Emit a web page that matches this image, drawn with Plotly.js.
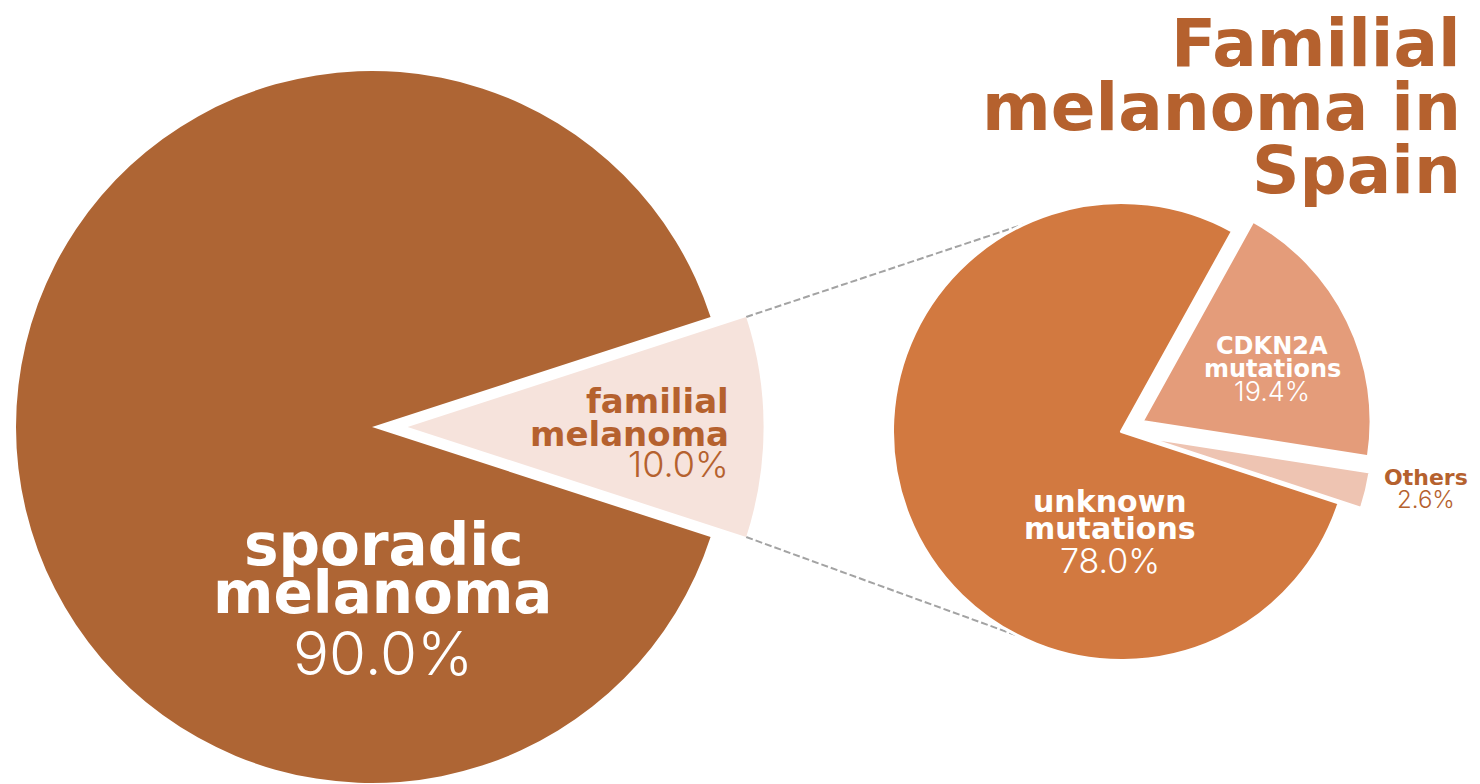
<!DOCTYPE html>
<html><head><meta charset="utf-8">
<script src="https://cdn.plot.ly/plotly-3.0.1.min.js"></script>
<style>
html,body{margin:0;padding:0;overflow:hidden;background:#fff;width:1480px;height:784px;}
#chart{position:absolute;left:-40px;top:0;width:1540px;height:860px;}
</style>
</head><body><div id="chart"></div>
<script>
// ---- data ----
const overallLabels = ['familial melanoma', 'sporadic melanoma'];
const overallValues = [10.0, 90.0];
const familialLabels = ['CDKN2A mutations', 'Others', 'unknown mutations'];
const familialValues = [19.4, 2.6, 78.0];
const titleLines = ['Familial', 'melanoma in', 'Spain'];

// ---- style ----
const overallColors = ['#F6E3DC', '#AE6534'];
const familialColors = ['#E49C7A', '#EEC4B2', '#D27940'];
const BROWN = '#B5612E';
const BOLD = 'DejaVu Sans, Verdana, sans-serif';
const LIGHT = 'Inter, Lato, sans-serif';

// ---- frame (div is wider/taller than the window so the big pie can bleed off) ----
const OX = -40, W = 1540, H = 860;
const px = x => (x - OX) / W;
const py = y => 1 - y / H;

const L = {cx: 372, cy: 427, r: 356, pull: 0.1};
const R = {cx: 1121.5, cy: 431.5, r: 229, pull: 0.1, line: 3, rotation: 29};

function domainFor(p) {
  const half = p.r * (1 + p.pull);
  return {x: [px(p.cx - half), px(p.cx + half)], y: [py(p.cy + half), py(p.cy - half)]};
}
const sum = a => a.reduce((s, v) => s + v, 0);
const pct = (v, a) => (v / sum(a) * 100).toFixed(1) + '%';

const famHalfDeg = overallValues[0] / sum(overallValues) * 180;

const traces = [
  {
    type: 'pie', values: overallValues, labels: overallLabels, sort: false,
    direction: 'clockwise', rotation: 90 - famHalfDeg,
    pull: [L.pull, 0],
    marker: {colors: overallColors, line: {width: 0}},
    textinfo: 'none', hoverinfo: 'none', showlegend: false,
    domain: domainFor(L)
  },
  {
    type: 'pie', values: familialValues, labels: familialLabels, sort: false,
    direction: 'clockwise', rotation: R.rotation,
    pull: [R.pull, R.pull, 0],
    marker: {colors: familialColors, line: {color: '#ffffff', width: R.line}},
    textinfo: 'none', hoverinfo: 'none', showlegend: false,
    domain: domainFor(R)
  }
];

// ---- connector lines: from the pulled familial slice corners to tangents of the right pie ----
const h = famHalfDeg * Math.PI / 180;
const pcx = L.cx + L.pull * L.r;
const corners = [
  {x: pcx + L.r * Math.cos(h), y: L.cy - L.r * Math.sin(h)},
  {x: pcx + L.r * Math.cos(h), y: L.cy + L.r * Math.sin(h)}
];
const rv = R.r - R.line / 2;
function tangent(P, upper) {
  const dx = P.x - R.cx, dy = P.y - R.cy;
  const d = Math.hypot(dx, dy);
  const base = Math.atan2(dy, dx);
  const delta = Math.acos(rv / d);
  const t1 = {x: R.cx + rv * Math.cos(base + delta), y: R.cy + rv * Math.sin(base + delta)};
  const t2 = {x: R.cx + rv * Math.cos(base - delta), y: R.cy + rv * Math.sin(base - delta)};
  return upper ? (t1.y < t2.y ? t1 : t2) : (t1.y > t2.y ? t1 : t2);
}
const shapes = corners.map((P, i) => {
  const T = tangent(P, i === 0);
  return {
    type: 'line', xref: 'paper', yref: 'paper', layer: 'below',
    x0: px(P.x), y0: py(P.y), x1: px(T.x), y1: py(T.y),
    line: {color: '#A3A3A3', width: 2, dash: '7px,3px'}
  };
});

// ---- text ----
function ann(text, x, midY, size, bold, color, xanchor) {
  return {
    xref: 'paper', yref: 'paper', x: px(x), y: py(midY), text: text, showarrow: false,
    xanchor: xanchor || 'center', yanchor: 'middle',
    font: {family: bold ? BOLD : LIGHT, size: size, color: color, weight: bold ? 700 : 300}
  };
}
const annotations = [
  ann(titleLines[0], 1463, 66 - 0.346 * 66, 66, true, BROWN, 'right'),
  ann(titleLines[1], 1463, 130 - 0.346 * 66, 66, true, BROWN, 'right'),
  ann(titleLines[2], 1463, 193 - 0.346 * 66, 66, true, BROWN, 'right'),

  ann('sporadic', 383, 545, 58, true, '#ffffff'),
  ann('melanoma', 383, 593, 58, true, '#ffffff'),
  ann(pct(overallValues[1], overallValues), 383, 653, 60, false, '#ffffff'),

  ann('familial', 731, 401, 34, true, BROWN, 'right'),
  ann('melanoma', 731, 434, 34, true, BROWN, 'right'),
  ann(pct(overallValues[0], overallValues), 731, 464, 36, false, BROWN, 'right'),

  ann('unknown', 1110, 501.6, 30, true, '#ffffff'),
  ann('mutations', 1110, 528.6, 30, true, '#ffffff'),
  ann(pct(familialValues[2], familialValues), 1110, 560.7, 34, false, '#ffffff'),

  ann('CDKN2A', 1272, 345.7, 24, true, '#ffffff'),
  ann('mutations', 1272, 368.7, 24, true, '#ffffff'),
  ann(pct(familialValues[0], familialValues), 1272, 391.2, 27, false, '#ffffff'),

  ann('Others', 1426, 477.4, 22, true, BROWN),
  ann(pct(familialValues[1], familialValues), 1426, 499.3, 24, false, BROWN)
];

const layout = {
  width: W, height: H,
  margin: {l: 0, r: 0, t: 0, b: 0},
  paper_bgcolor: '#ffffff', plot_bgcolor: '#ffffff',
  showlegend: false,
  shapes: shapes,
  annotations: annotations
};

Plotly.newPlot('chart', traces, layout, {staticPlot: true, displayModeBar: false});
</script>
</body></html>
